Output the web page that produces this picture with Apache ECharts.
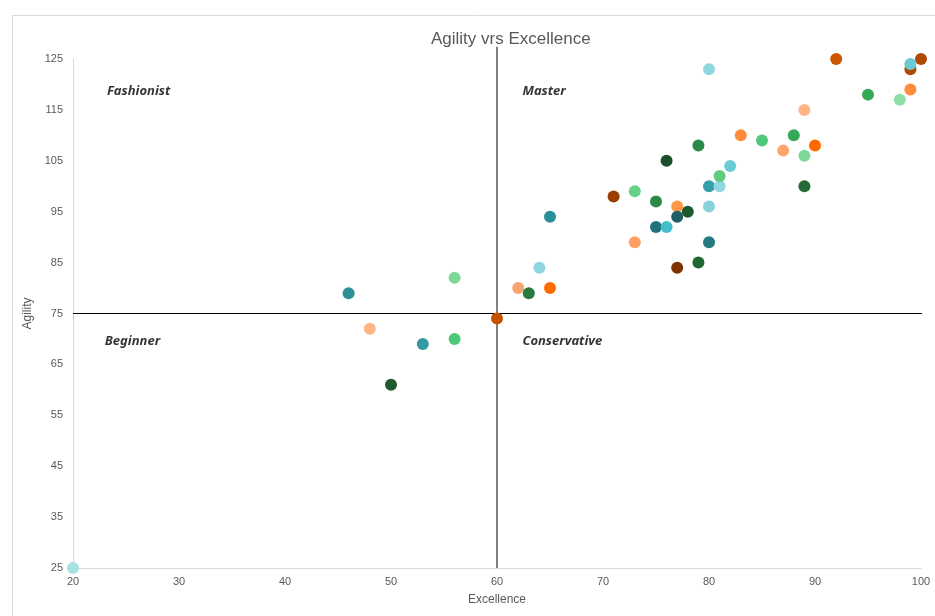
<!DOCTYPE html>
<html>
<head>
<meta charset="utf-8">
<script src="https://cdn.jsdelivr.net/npm/echarts@6/dist/echarts.min.js"></script>
<style>html,body{margin:0;padding:0;background:#fff}#c{width:935px;height:616px}</style>
</head>
<body>
<div id="c"></div>
<script>
var excellence = [20,46,48,56,53,56,50,60,62,63,64,65,65,71,73,73,75,75,76,77,77,78,77,79,80,80,80,81,81,82,76,79,80,83,85,87,88,89,89,89,90,92,95,98,99,99,99,100];
var agility    = [25,79,72,82,69,70,61,74,80,79,84,80,94,98,89,99,97,92,92,96,94,95,84,85,89,96,100,100,102,104,105,108,123,110,109,107,110,115,106,100,108,125,118,117,119,123,124,125];
var pointColors = ['#a6e1e6','#2e8f97','#ffb585','#7dd99a','#3399a3','#4fc879','#1e5a2e','#c55200','#f7a672','#2a7a40','#8dd6de','#ff6a00','#2a8e98','#9a3d00','#ffa060','#66d085','#2f8a48','#23717a','#44bfc9','#ff9648','#1d5f66','#1c5a2c','#7e3200','#1f6630','#247a80','#86d3dc','#35a0aa','#8fd8e0','#5fcc80','#6bcbd5','#1a4f28','#2a8a48','#8fd8e0','#ff8c3a','#4fc879','#ffa46c','#35a855','#ffb585','#7dd99a','#226b36','#ff6a00','#cc5500','#35a855','#8edda6','#ff8c3a','#b04a00','#6bcbd5','#b04a00'];
var xTicks = [20,30,40,50,60,70,80,90,100];
var yTicks = [25,35,45,55,65,75,85,95,105,115,125];
var quadNames = ['Fashionist','Master','Beginner','Conservative'];
var quadX = [23.2, 62.4, 23.0, 62.4];
var quadY = [118.7, 118.7, 69.6, 69.6];
var splitX = 60, splitY = 75;
var vLine = [[splitX, 25], [splitX, 127.4]];
var hLine = [[20, splitY], [101.32, splitY]];

var pts = excellence.map(function(x,i){ return {value:[x, agility[i]], itemStyle:{color: pointColors[i]}}; });
var quadData = quadNames.map(function(n,i){ return {value:[quadX[i], quadY[i]], name:n}; });

var chart = echarts.init(document.getElementById('c'));
chart.setOption({
  animation:false,
  graphic:[{type:'rect', left:10, top:13, shape:{width:1200, height:1000}, style:{fill:'none', stroke:'#d9d9d9', lineWidth:1}, silent:true, z:-1}],
  title:{text:'Agility vrs Excellence', left:426, top:26, textStyle:{fontFamily:'Liberation Sans', fontSize:17, fontWeight:'normal', color:'#595959'}},
  grid:{left:73, right:14, top:59, bottom:48},
  xAxis:{type:'value', min:20, max:100, interval:10, name:'Excellence', nameLocation:'middle', nameGap:26,
    nameTextStyle:{fontFamily:'Liberation Sans', fontSize:12, color:'#595959'},
    axisLine:{show:true, onZero:false, lineStyle:{color:'#d9d9d9'}}, axisTick:{show:false}, splitLine:{show:false},
    axisLabel:{fontFamily:'Liberation Sans', fontSize:11, color:'#595959', margin:8}},
  yAxis:{type:'value', min:25, max:125, interval:10, name:'Agility', nameLocation:'middle', nameGap:35,
    nameTextStyle:{fontFamily:'Liberation Sans', fontSize:12, color:'#595959'},
    axisLine:{show:true, onZero:false, lineStyle:{color:'#d9d9d9'}}, axisTick:{show:false}, splitLine:{show:false},
    axisLabel:{fontFamily:'Liberation Sans', fontSize:11, color:'#595959', margin:10}},
  series:[
    {type:'line', data:vLine, clip:false, showSymbol:false, symbol:'none', silent:true, z:2, lineStyle:{color:'#000', width:1}},
    {type:'line', data:hLine, clip:false, showSymbol:false, symbol:'none', silent:true, z:2, lineStyle:{color:'#000', width:1}},
    {type:'scatter', symbolSize:12, data:pts, clip:false, z:3, itemStyle:{opacity:1}},
    {type:'scatter', symbolSize:0, data:quadData, silent:true, z:4,
     label:{show:true, position:'right', distance:0, formatter:'{b}', fontFamily:'Noto Sans', fontStyle:'italic', fontWeight:'bold', fontSize:13, color:'#000'}}
  ]
});
</script>
</body>
</html>
